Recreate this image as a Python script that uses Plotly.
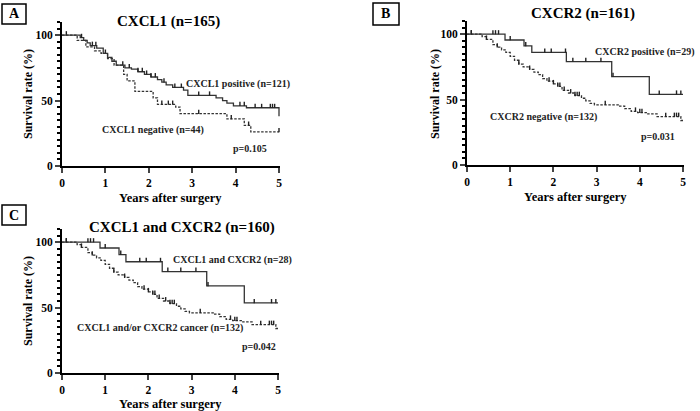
import plotly.graph_objects as go

W, H = 700, 411

# ---------------- DATA ----------------
# Panel A : CXCL1
a_pos_t = [0, 0.42, 0.5, 0.58, 0.65, 0.8, 0.95, 1.05, 1.15, 1.25, 1.45, 1.6, 1.75, 1.9, 2.05, 2.2, 2.3, 2.4, 2.55, 2.8, 2.9, 3.55, 3.7, 3.8, 3.95, 4.25, 5.0]
a_pos_s = [100, 98, 96, 94, 92, 90, 86, 83, 80, 77, 75, 74, 72, 70, 68, 66, 64, 62, 60, 58, 54, 52, 50, 48, 46, 44.5, 38]
a_pos_c = [0.1, 0.45, 0.7, 0.78, 1.0, 1.4, 1.55, 1.75, 1.85, 1.95, 2.05, 2.15, 2.35, 2.6, 2.75, 3.15, 3.4, 4.1, 4.2, 4.45, 4.6, 4.8, 4.85, 4.9]
a_neg_t = [0, 0.35, 0.55, 0.75, 0.9, 1.05, 1.2, 1.42, 1.5, 1.68, 2.1, 2.2, 2.62, 2.72, 3.8, 4.2, 4.35]
a_neg_s = [100, 96, 91, 88, 86, 82, 77, 70, 65, 57, 52, 47, 45, 40, 36, 31, 26]
a_neg_c = [2.3, 2.45, 2.55, 3.15, 3.9, 4.3, 5.0]

# Panel B : CXCR2
b_pos_t = [0, 0.88, 1.32, 1.5, 2.3, 3.35, 4.22]
b_pos_s = [100, 95.5, 91, 86, 79, 67.5, 54]
b_pos_c = [0.1, 0.6, 0.66, 0.73, 1.0, 1.36, 1.8, 1.95, 2.28, 2.45, 2.75, 3.1, 3.38, 4.45, 4.85, 4.95]
b_neg_t = [0, 0.35, 0.45, 0.6, 0.7, 0.8, 0.9, 1.0, 1.1, 1.2, 1.3, 1.45, 1.55, 1.65, 1.75, 1.85, 2.0, 2.1, 2.2, 2.35, 2.5, 2.65, 2.75, 2.85, 2.95, 3.5, 3.65, 3.8, 3.95, 4.15, 4.4, 4.95]
b_neg_s = [100, 98, 96, 92, 90, 88, 86, 83, 80, 77, 75, 73, 71, 69, 66, 64, 62, 60, 57, 55, 53, 51, 49, 47, 46, 45, 43, 41, 40, 39, 37, 34]
b_neg_c = [0.1, 0.45, 0.7, 1.2, 1.45, 1.9, 2.0, 2.1, 2.15, 2.25, 2.4, 2.5, 2.55, 2.6, 3.2, 3.9, 4.0, 4.05, 4.6, 4.8, 4.85, 4.9]

# Panel C : CXCL1 and CXCR2
c_pos_t = [0, 0.88, 1.32, 1.48, 2.32, 3.35, 4.22]
c_pos_s = [100, 95.5, 90.5, 85, 77.5, 66.5, 53.5]
c_pos_c = [0.1, 0.6, 0.66, 0.73, 1.0, 1.36, 1.8, 1.95, 2.28, 2.45, 2.75, 3.1, 3.38, 4.45, 4.85, 4.95]
c_neg_t = [0, 0.35, 0.45, 0.6, 0.7, 0.8, 0.9, 1.0, 1.1, 1.2, 1.3, 1.45, 1.55, 1.65, 1.75, 1.85, 2.0, 2.1, 2.2, 2.35, 2.5, 2.65, 2.75, 2.85, 2.95, 3.5, 3.65, 3.8, 3.95, 4.15, 4.4, 4.95]
c_neg_s = [100, 98, 96, 92, 90, 88, 86, 83, 80, 77, 75, 73, 71, 69, 66, 64, 62, 60, 57, 55, 53, 51, 49, 47, 46, 45, 43, 41, 40, 39, 37, 34]
c_neg_c = [0.1, 0.45, 0.7, 1.2, 1.45, 1.9, 2.0, 2.1, 2.15, 2.25, 2.4, 2.5, 2.55, 2.6, 3.2, 3.9, 4.0, 4.05, 4.6, 4.8, 4.85, 4.9]

x_ticks = [0, 1, 2, 3, 4, 5]
y_ticks = [0, 50, 100]

panels = [
    dict(key="A", title="CXCL1 (n=165)",
         pos=(a_pos_t, a_pos_s, a_pos_c), neg=(a_neg_t, a_neg_s, a_neg_c),
         pos_label="CXCL1 positive (n=121)", neg_label="CXCL1 negative (n=44)", p="p=0.105",
         pos_xy=(4.05, 62.5), neg_xy=(2.1, 27.5), p_xy=(4.33, 13.7)),
    dict(key="B", title="CXCR2 (n=161)",
         pos=(b_pos_t, b_pos_s, b_pos_c), neg=(b_neg_t, b_neg_s, b_neg_c),
         pos_label="CXCR2 positive (n=29)", neg_label="CXCR2 negative (n=132)", p="p=0.031",
         pos_xy=(4.13, 86), neg_xy=(1.76, 36.6), p_xy=(4.42, 22)),
    dict(key="C", title="CXCL1 and CXCR2 (n=160)",
         pos=(c_pos_t, c_pos_s, c_pos_c), neg=(c_neg_t, c_neg_s, c_neg_c),
         pos_label="CXCL1 and CXCR2 (n=28)", neg_label="CXCL1 and/or CXCR2 cancer (n=132)", p="p=0.042",
         pos_xy=(3.95, 86), neg_xy=(2.26, 34), p_xy=(4.57, 20)),
]

# ---------------- LAYOUT (pixel geometry) ----------------
geom = [(62, 279, 166, 22), (467, 683, 165, 21), (62, 278, 373, 229)]
XMAX = 5.03
YMAX = 110
box_px = [(2, 4, 26, 24), (373, 3, 399, 25), (2, 205, 26, 225)]
title_px = [(168, 21), (583, 14), (182, 227)]
ytitle_px = [(28, 94), (435, 94), (28, 301)]
xtitle_px = [(170, 198), (575, 197), (170, 404)]

FONT = "Liberation Serif"
CENTER = dict(xanchor="center", yanchor="middle", showarrow=False)


def step_value(ts, ss, t):
    v = ss[0]
    for ti, si in zip(ts, ss):
        if ti <= t:
            v = si
    return v


fig = go.Figure()
layout = {}
annotations = []
shapes = []

for i, pnl in enumerate(panels):
    n = "" if i == 0 else str(i + 1)
    xa, ya = "x" + n, "y" + n
    x0, x5, y0, ytop = geom[i]
    xend = x0 + (x5 - x0) / 5 * XMAX
    layout["xaxis" + n] = dict(
        domain=[x0 / W, xend / W], range=[0, XMAX], anchor=ya, automargin=False,
        tickvals=x_ticks, ticks="outside", ticklen=5, tickwidth=2,
        showline=True, linewidth=2, linecolor="black", showgrid=False, zeroline=False,
        tickfont=dict(family=FONT, size=11.5, color="black", weight="bold"))
    layout["yaxis" + n] = dict(
        domain=[1 - y0 / H, 1 - ytop / H], range=[0, YMAX], anchor=xa, automargin=False,
        tickvals=y_ticks, ticks="outside", ticklen=5, tickwidth=2,
        minor=dict(dtick=5, tick0=0, ticks="outside", ticklen=3, tickwidth=1.5, tickcolor="black"),
        showline=True, linewidth=2, linecolor="black", showgrid=False, zeroline=False,
        tickfont=dict(family=FONT, size=11.5, color="black", weight="bold"))

    for grp, dash, color in (("pos", "solid", "#333333"), ("neg", "2.5px,1.5px", "#333333")):
        ts, ss, cs = pnl[grp]
        xs = list(ts) + ([5.0] if ts[-1] < 5.0 else [])
        ys = list(ss) + ([ss[-1]] if ts[-1] < 5.0 else [])
        fig.add_trace(go.Scatter(x=xs, y=ys, mode="lines", line=dict(shape="hv", width=1.3, color=color, dash=dash),
                                 xaxis=xa, yaxis=ya, showlegend=False, hoverinfo="skip"))
        cy = [step_value(ts, ss, c) + 1.4 for c in cs]
        fig.add_trace(go.Scatter(x=cs, y=cy, mode="markers", cliponaxis=False,
                                 marker=dict(symbol="line-ns", size=3, line=dict(width=1.4, color="#222222")),
                                 xaxis=xa, yaxis=ya, showlegend=False, hoverinfo="skip"))

    for key, txt in (("pos_xy", pnl["pos_label"]), ("neg_xy", pnl["neg_label"]), ("p_xy", pnl["p"])):
        annotations.append(dict(x=pnl[key][0], y=pnl[key][1], xref=xa, yref=ya, text=txt, **CENTER,
                                font=dict(family=FONT, size=10, color="#222222", weight="bold")))

    tx, ty = title_px[i]
    annotations.append(dict(x=tx / W, y=1 - ty / H, xref="paper", yref="paper", text=pnl["title"], **CENTER,
                            font=dict(family=FONT, size=15, color="black", weight="bold")))
    yx, yy = ytitle_px[i]
    annotations.append(dict(x=yx / W, y=1 - yy / H, xref="paper", yref="paper", text="Survival rate (%)",
                            textangle=-90, **CENTER,
                            font=dict(family=FONT, size=12, color="black", weight="bold")))
    xx, xy = xtitle_px[i]
    annotations.append(dict(x=xx / W, y=1 - xy / H, xref="paper", yref="paper", text="Years after surgery",
                            **CENTER, font=dict(family=FONT, size=12.5, color="black", weight="bold")))
    bx0, by0, bx1, by1 = box_px[i]
    shapes.append(dict(type="rect", xref="paper", yref="paper", x0=bx0 / W, x1=bx1 / W,
                       y0=1 - by1 / H, y1=1 - by0 / H, line=dict(color="black", width=1.5), fillcolor="white",
                       layer="below"))
    annotations.append(dict(x=(bx0 + bx1) / 2 / W, y=1 - (by0 + by1) / 2 / H, xref="paper", yref="paper",
                            text=pnl["key"], **CENTER,
                            font=dict(family=FONT, size=14, color="black", weight="bold")))

fig.update_layout(width=W, height=H, margin=dict(l=0, r=0, t=0, b=0, autoexpand=False),
                  paper_bgcolor="white", plot_bgcolor="white",
                  annotations=annotations, shapes=shapes, **layout)

fig.write_html("out.html", config={"displayModeBar": False},
               post_script="document.body.style.margin='0px';document.body.style.overflow='hidden';")
